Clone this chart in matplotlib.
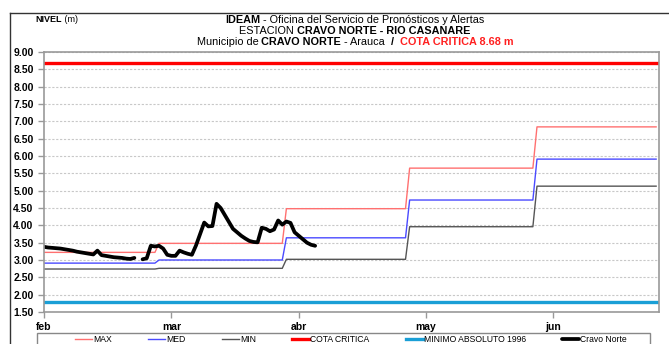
import numpy as np
import matplotlib
matplotlib.use("Agg")
import matplotlib.pyplot as plt
from matplotlib.lines import Line2D
from matplotlib.patches import Rectangle
from matplotlib.ticker import FormatStrFormatter

plt.rcParams['font.family'] = ['Liberation Sans', 'DejaVu Sans']

# Months shown on the time axis (day 0 = 1 Feb); labels every 31 days
meses = ['feb', 'mar', 'abr', 'may', 'jun']
dias_mes = [28, 31, 30, 31, 30]
ticks_dias = [0, 31, 62, 93, 124]

# Monthly historical levels (m)
nivel_max = [3.22, 3.48, 4.48, 5.65, 6.84]
nivel_med = [2.91, 3.00, 3.64, 4.73, 5.91]
nivel_min = [2.74, 2.76, 3.02, 3.96, 5.13]
cota_critica = 8.68
minimo_1996 = 1.80

# Daily observed level at Cravo Norte from 1 Feb (nan = missing reading)
cravo_norte = [
    3.38, 3.36, 3.35, 3.34, 3.33, 3.31, 3.29, 3.27, 3.24, 3.22,
    3.20, 3.18, 3.16, 3.27, 3.14, 3.12, 3.10, 3.08, 3.07, 3.06,
    3.04, 3.03, 3.06, np.nan, 3.02, 3.05, 3.41, 3.39, 3.41, 3.33,
    3.15, 3.12, 3.12, 3.27, 3.22, 3.18, 3.15, 3.42, 3.75, 4.08,
    3.97, 3.98, 4.62, 4.50, 4.30, 4.10, 3.90, 3.80, 3.70, 3.62,
    3.55, 3.52, 3.51, 3.93, 3.90, 3.83, 3.88, 4.14, 4.02, 4.11,
    4.07, 3.80, 3.70, 3.60, 3.50, 3.44, 3.41,
]

dias = np.arange(sum(dias_mes))
serie_max = np.repeat(nivel_max, dias_mes)
serie_med = np.repeat(nivel_med, dias_mes)
serie_min = np.repeat(nivel_min, dias_mes)
dias_obs = np.arange(len(cravo_norte))

fig = plt.figure(figsize=(6.69, 3.44), dpi=100)
ax = fig.add_axes([44 / 669, 1 - 312 / 344, (659 - 44) / 669, (312 - 52) / 344])

h_max, = ax.plot(dias, serie_max, color='#ff7070', lw=1.0, label='MAX')
h_med, = ax.plot(dias, serie_med, color='#4a4aff', lw=1.0, label='MED')
h_min, = ax.plot(dias, serie_min, color='#555555', lw=1.0, label='MIN')
h_cota = ax.axhline(cota_critica, color='#ff0000', lw=2.4, label='COTA CRITICA')
h_minabs = ax.axhline(minimo_1996, color='#1a9fd6', lw=2.4, label='MINIMO ABSOLUTO 1996')
h_obs, = ax.plot(dias_obs, cravo_norte, color='black', lw=2.7,
                 solid_joinstyle='round', solid_capstyle='round', label='Cravo Norte')

ax.set_xlim(0, 149.7)
ax.set_ylim(1.5, 9.0)
ax.set_yticks(np.arange(1.5, 9.01, 0.5))
ax.yaxis.set_major_formatter(FormatStrFormatter('%.2f'))
ax.set_xticks(ticks_dias)
ax.set_xticklabels(meses)
ax.yaxis.grid(True, color='#c8c8c8', ls=(0, (2, 1.5)), lw=0.8)
ax.set_axisbelow(True)
for s in ax.spines.values():
    s.set_color('#999999')
    s.set_linewidth(1.2)
ax.tick_params(axis='both', colors='#999999', length=4, width=1,
               labelcolor='black', labelsize=7.5)
ax.tick_params(axis='x', pad=3)
for lab in ax.get_xticklabels() + ax.get_yticklabels():
    lab.set_fontweight('bold')

# Outer border of the sheet
fig.add_artist(Line2D([10 / 669, 10 / 669], [0, 1 - 13 / 344], color='#333333', lw=1.0))
fig.add_artist(Line2D([10 / 669, 1], [1 - 13 / 344, 1 - 13 / 344], color='#333333', lw=1.0))


def rich_line(y_px, pieces, size, cx_px=None, x0_px=None):
    renderer = fig.canvas.get_renderer()
    texts = [fig.text(0, 1 - y_px / 344, s, fontsize=size, fontweight=w, color=c,
                      va='center', ha='left') for s, w, c in pieces]
    widths = [t.get_window_extent(renderer).width for t in texts]
    total = sum(widths)
    x = (cx_px - total / 2) if cx_px is not None else x0_px
    for t, w in zip(texts, widths):
        t.set_x(x / 669)
        x += w


fig.canvas.draw()
rich_line(20, [('NIVEL', 'bold', 'black'), (' (m)', 'normal', 'black')], 6.5, x0_px=35)
rich_line(20, [('IDEAM', 'bold', 'black'),
               (' - Oficina del Servicio de Pronósticos y Alertas', 'normal', 'black')],
          7.8, cx_px=355)
rich_line(31, [('ESTACION ', 'normal', 'black'),
               ('CRAVO NORTE - RIO CASANARE', 'bold', 'black')], 7.8, cx_px=355)
rich_line(42, [('Municipio de ', 'normal', 'black'), ('CRAVO NORTE', 'bold', 'black'),
               (' - Arauca  ', 'normal', 'black'), ('/', 'bold', 'black'),
               ('  COTA CRITICA 8.68 m', 'bold', '#ff2020')], 7.8, cx_px=355)

# Legend box running off the bottom edge
fig.add_artist(Rectangle((37 / 669, -0.05), (650 - 37) / 669, 0.05 + 1 - 333 / 344,
                         transform=fig.transFigure, fill=False,
                         edgecolor='#888888', lw=1.0))
fig.legend(handles=[h_max, h_med, h_min, h_cota, h_minabs, h_obs],
           loc='center', bbox_to_anchor=(351 / 669, 1 - 340 / 344),
           ncol=6, frameon=False, fontsize=6.2, handlelength=2.0,
           handletextpad=0.1, columnspacing=4.2, borderpad=0, borderaxespad=0)

fig.savefig('out.png', dpi=100)
